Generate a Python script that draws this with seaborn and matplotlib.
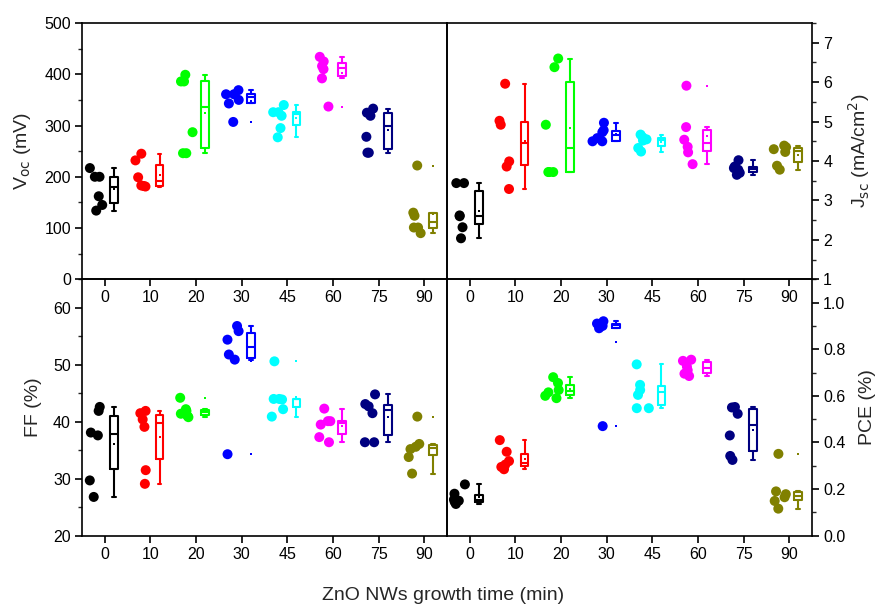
import matplotlib
matplotlib.use("Agg")
import matplotlib.pyplot as plt
import seaborn as sns
import pandas as pd
import numpy as np
from matplotlib.ticker import MultipleLocator

times = ["0", "10", "20", "30", "45", "60", "75", "90"]
colors = ["#000000", "#FF0000", "#00FF00", "#0000FF", "#00FFFF", "#FF00FF", "#000080", "#808000"]

voc = [[217, 200, 200, 162, 145, 134],
       [245, 232, 199, 183, 182, 181],
       [399, 386, 386, 287, 246, 246],
       [369, 361, 361, 350, 343, 307],
       [340, 326, 326, 319, 295, 277],
       [434, 425, 416, 410, 392, 337],
       [333, 325, 319, 278, 247, 247],
       [222, 130, 124, 101, 101, 90]]
jsc = [[3.44, 3.44, 2.62, 2.60, 2.32, 2.04],
       [5.96, 5.02, 4.92, 3.99, 3.86, 3.29],
       [6.60, 6.38, 4.92, 3.72, 3.72, 3.72],
       [4.97, 4.78, 4.73, 4.58, 4.50, 4.50],
       [4.67, 4.60, 4.55, 4.52, 4.33, 4.24],
       [5.91, 4.86, 4.54, 4.36, 4.22, 3.92],
       [4.02, 3.86, 3.82, 3.78, 3.70, 3.65],
       [4.39, 4.35, 4.30, 4.23, 3.88, 3.78]]
ff = [[42.6, 41.9, 38.1, 37.6, 29.7, 26.8],
      [41.9, 41.5, 40.4, 39.1, 31.5, 29.1],
      [44.2, 42.2, 41.9, 41.4, 41.0, 40.8],
      [56.8, 55.9, 54.4, 51.8, 50.9, 34.3],
      [50.6, 44.0, 44.0, 43.9, 42.2, 40.9],
      [42.3, 40.1, 40.1, 39.5, 37.3, 36.4],
      [44.8, 43.1, 42.7, 41.5, 36.4, 36.4],
      [40.9, 36.1, 35.6, 35.2, 33.8, 30.9]]
pce = [[0.22, 0.18, 0.155, 0.15, 0.145, 0.136],
       [0.41, 0.36, 0.32, 0.305, 0.295, 0.285],
       [0.68, 0.655, 0.625, 0.615, 0.60, 0.59],
       [0.92, 0.91, 0.905, 0.90, 0.89, 0.47],
       [0.735, 0.647, 0.625, 0.604, 0.547, 0.547],
       [0.755, 0.75, 0.725, 0.71, 0.695, 0.685],
       [0.552, 0.55, 0.523, 0.43, 0.342, 0.325],
       [0.351, 0.19, 0.178, 0.165, 0.149, 0.116]]

kinds = ["pts", "box"]

sns.set_theme(style="ticks")
plt.rcParams["font.family"] = ["Liberation Sans", "DejaVu Sans"]
plt.rcParams["axes.linewidth"] = 1.2
np.random.seed(7)

fig = plt.figure(figsize=(8.77, 6.09), dpi=100)
fig.patch.set_facecolor("white")
W, H = 0.4162, 0.4208
axTL = fig.add_axes([0.0935, 0.5414, W, H])
axTR = fig.add_axes([0.5097, 0.5414, W, H])
axBL = fig.add_axes([0.0935, 0.1204, W, 0.421])
axBR = fig.add_axes([0.5097, 0.1204, W, 0.421])


def panel(ax, values, ylim, major, minor, ylabel, right):
    for t, c, vals in zip(times, colors, values):
        d = pd.DataFrame({"time": t, "value": vals})
        pal = {"pts": c, "box": c}
        sns.stripplot(data=d.assign(kind="pts"), x="time", y="value", hue="kind",
                      hue_order=kinds, order=times, palette=pal, dodge=True,
                      jitter=0.3, size=7.2, linewidth=0, legend=False, ax=ax,
                      zorder=3)
        sns.boxplot(data=d.assign(kind="box"), x="time", y="value", hue="kind",
                    hue_order=kinds, order=times, palette=pal, dodge=True,
                    fill=False, width=0.8, gap=0.58, whis=1.9, linewidth=1.5,
                    showmeans=True,
                    meanprops=dict(marker="s", markersize=1.6, markerfacecolor=c,
                                   markeredgecolor=c, markeredgewidth=0),
                    flierprops=dict(marker="s", markersize=1.6, markerfacecolor=c,
                                    markeredgecolor=c, markeredgewidth=0),
                    legend=False, ax=ax)
    ax.set_facecolor("none")
    ax.set_xlim(-0.5, 7.5)
    ax.set_ylim(*ylim)
    ax.yaxis.set_major_locator(MultipleLocator(major))
    ax.yaxis.set_minor_locator(MultipleLocator(minor))
    ax.set_xlabel("")
    ax.tick_params(axis="both", which="major", direction="out", length=5, width=1.2,
                   labelsize=11.5, colors="black", pad=3)
    ax.tick_params(axis="y", which="minor", direction="out", length=3, width=1.0)
    ax.tick_params(axis="x", which="minor", bottom=False, top=False)
    ax.tick_params(axis="x", top=False, bottom=True, labelbottom=True)
    if right:
        ax.yaxis.tick_right()
        ax.yaxis.set_label_position("right")
        ax.tick_params(axis="y", which="both", left=False, right=True)
        ax.set_ylabel(ylabel, fontsize=14, rotation=90, labelpad=10)
    else:
        ax.set_ylabel(ylabel, fontsize=14, labelpad=8)
    for s in ax.spines.values():
        s.set_visible(True)
        s.set_color("black")
        s.set_linewidth(1.2)


panel(axTL, voc, (0, 500), 100, 50, r"V$_{\rm oc}$ (mV)", False)
panel(axTR, jsc, (1, 7.5), 1, 0.5, r"J$_{\rm sc}$ (mA/cm$^2$)", True)
panel(axBL, ff, (20, 65), 10, 5, "FF (%)", False)
panel(axBR, pce, (0, 1.1), 0.2, 0.1, "PCE (%)", True)
axBR.set_yticks([0, 0.2, 0.4, 0.6, 0.8, 1.0])
axBR.set_yticklabels(["0.0", "0.2", "0.4", "0.6", "0.8", "1.0"])
axBR.set_ylim(0, 1.1)

for ax in (axTL, axTR):
    ax.set_zorder(3)
fig.text(0.505, 0.008, "ZnO NWs growth time (min)", ha="center", va="bottom", fontsize=14)

fig.savefig("out.png", dpi=100, facecolor="white")
